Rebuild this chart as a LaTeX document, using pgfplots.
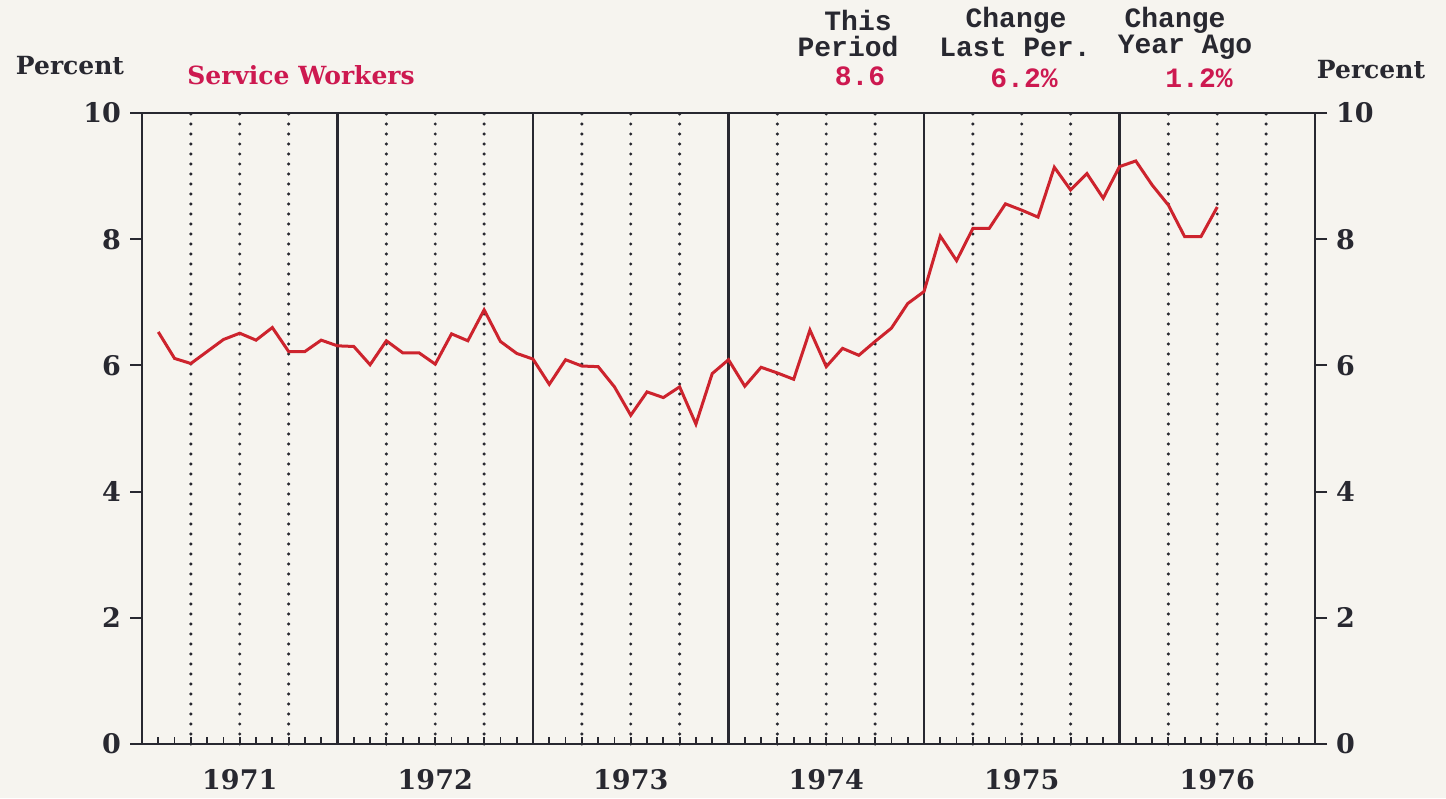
\documentclass[border=0pt]{standalone}
\usepackage{pgfplots}
\pgfplotsset{compat=1.18}
\usepackage{fontspec}
\setmainfont{DejaVu Serif}
\newfontfamily\mono{Liberation Mono}

\definecolor{paper}{RGB}{246,244,239}
\definecolor{ink}{RGB}{40,40,48}
\definecolor{lnred}{RGB}{205,35,45}
\definecolor{txred}{RGB}{205,25,80}

\pgfplotstableread{
m val
1 6.53
2 6.11
3 6.03
4 6.22
5 6.41
6 6.51
7 6.40
8 6.60
9 6.22
10 6.22
11 6.40
12 6.31
13 6.30
14 6.01
15 6.39
16 6.20
17 6.20
18 6.02
19 6.50
20 6.39
21 6.88
22 6.38
23 6.19
24 6.10
25 5.70
26 6.09
27 5.99
28 5.98
29 5.66
30 5.21
31 5.58
32 5.49
33 5.66
34 5.07
35 5.87
36 6.09
37 5.67
38 5.97
39 5.88
40 5.78
41 6.56
42 5.98
43 6.27
44 6.16
45 6.38
46 6.59
47 6.98
48 7.17
49 8.05
50 7.66
51 8.17
52 8.17
53 8.56
54 8.46
55 8.35
56 9.14
57 8.78
58 9.04
59 8.65
60 9.15
61 9.24
62 8.86
63 8.54
64 8.04
65 8.04
66 8.51
}\service

\begin{document}
\begin{tikzpicture}
\fill[paper] (0,0) rectangle (723pt,399pt);
\path[use as bounding box] (0,0) rectangle (723pt,399pt);

\pgfplotsset{every axis/.append style={
  at={(71pt,27pt)}, anchor=south west,
  scale only axis, width=586.5pt, height=315.5pt,
  xmin=0, xmax=72, ymin=0, ymax=10,
  axis line style={ink, line width=1pt},
  ytick={0,2,...,10},
  tick align=outside,
  major tick length=6pt,
  ytick style={ink, line width=1pt},
  /pgf/number format/assume math mode=true,
  ticklabel style={font=\fontsize{13.5}{16}\selectfont\bfseries, text=ink},
}}

\begin{axis}[
  ytick pos=left,
  xtick={6,18,...,66},
  xticklabels={1971,1972,1973,1974,1975,1976},
  xtick style={draw=none},
  xticklabel style={yshift=-3pt},
  minor xtick={12,24,36,48,60},
  xminorgrids,
  minor grid style={ink, line width=1.1pt, solid},
  extra x ticks={3,6,9,15,18,21,27,30,33,39,42,45,51,54,57,63,66,69},
  extra x tick labels={},
  extra x tick style={grid=major, xtick style={draw=none},
    major grid style={ink, line width=1.7pt, line cap=round, dash pattern=on 0pt off 5pt}},
  yticklabel style={xshift=-1pt},
]
\pgfplotsinvokeforeach{1,...,71}{\draw[ink, line width=0.9pt] (axis cs:#1,0) -- ++(0,3.5pt);}
\addplot[lnred, line width=1.5pt] table[x=m, y=val] {\service};
\end{axis}

\begin{axis}[
  axis y line*=right,
  hide x axis,
  yticklabel style={xshift=1pt},
]
\end{axis}

\node[font=\fontsize{12.5}{15}\selectfont\bfseries, text=ink] at (35pt,366pt) {Percent};
\node[font=\fontsize{12.5}{15}\selectfont\bfseries, text=ink] at (685.5pt,364pt) {Percent};
\node[font=\fontsize{12.5}{15}\selectfont\bfseries, text=txred] at (150.5pt,361.5pt) {Service Workers};

\begin{scope}[every node/.style={font=\mono\fontsize{14}{16}\selectfont\bfseries}]
\node[text=ink] at (429pt,389pt) {This};
\node[text=ink] at (424pt,375.5pt) {Period};
\node[text=txred] at (430pt,361pt) {8.6};
\node[text=ink] at (508pt,389pt) {Change};
\node[text=ink] at (507.5pt,375.5pt) {Last Per.};
\node[text=txred] at (512pt,360pt) {6.2\%};
\node[text=ink] at (587.5pt,389pt) {Change};
\node[text=ink] at (592.5pt,375.5pt) {Year Ago};
\node[text=txred] at (599.5pt,360pt) {1.2\%};
\end{scope}
\end{tikzpicture}
\end{document}
